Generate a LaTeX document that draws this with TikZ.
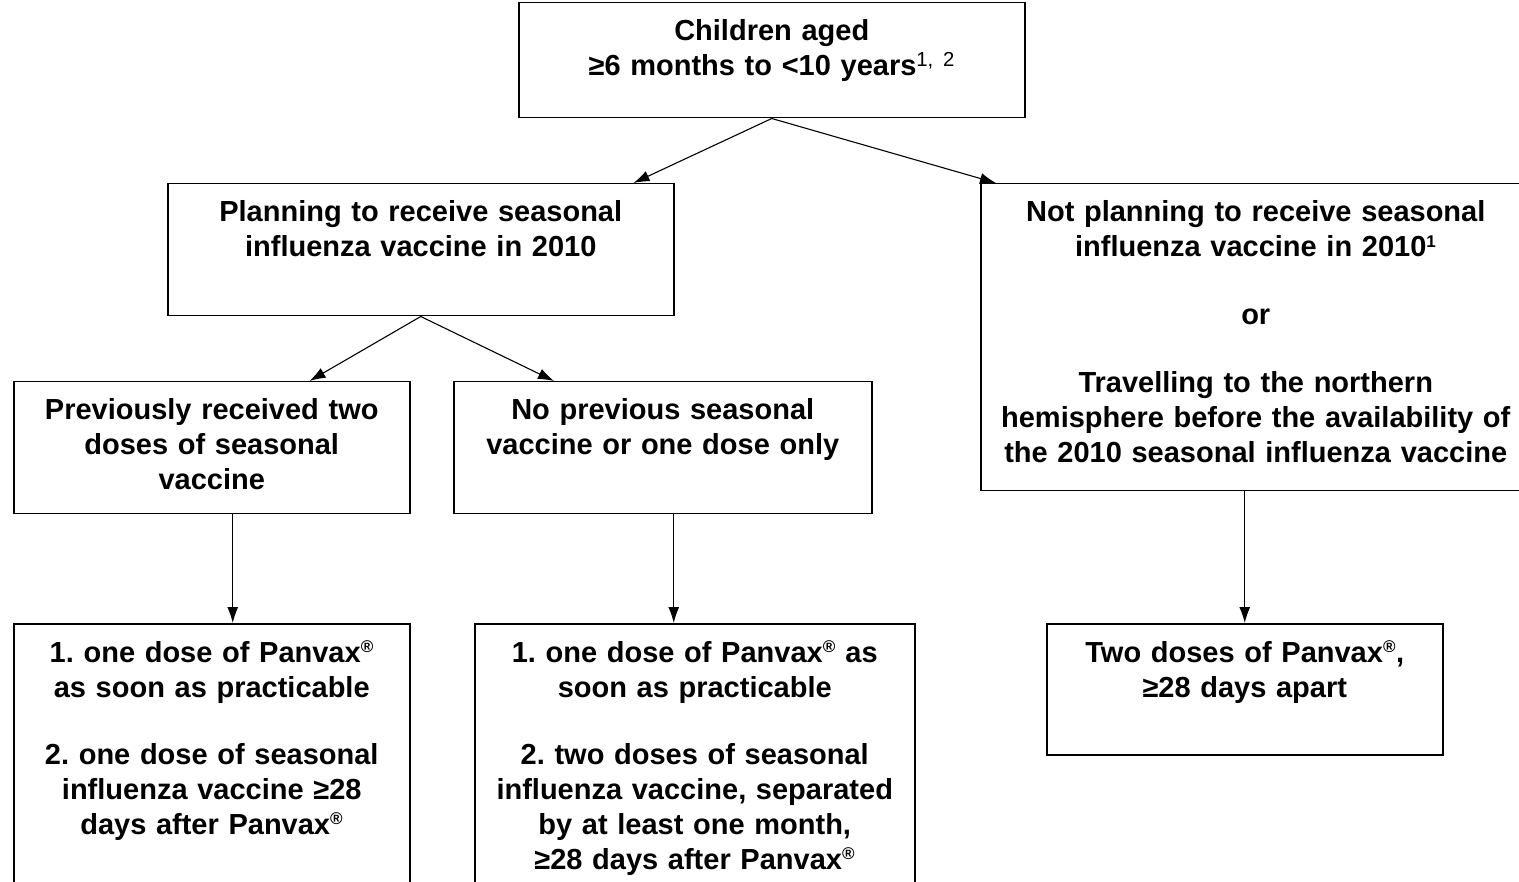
\documentclass[tikz,border=0pt]{standalone}
\usepackage{fontspec}
\setmainfont{Liberation Sans}
\usetikzlibrary{arrows.meta}
\frenchspacing
\newcommand{\regmark}{\textsuperscript{\fontsize{17}{17}\selectfont ®}}
\tikzset{
  box/.style = {draw, line width = 1.5pt, anchor = north west, inner sep = 0pt},
  txt/.style = {anchor = base, align = center, inner sep = 0pt, yshift = -39pt,
    font = \fontsize{29}{35}\selectfont\bfseries}
}
\begin{document}
\begin{tikzpicture}[x = 1pt, y = 1pt, line width = 1.1pt,
    >={Latex[length = 16pt, width = 11pt]}]
  \useasboundingbox (0,0) rectangle (1519,-882);
  % boxes
  \node [box, minimum width = 506pt, minimum height = 115pt] (kids) at (518,-2) {};
  \node [box, minimum width = 506pt, minimum height = 132pt] (plan) at (167,-183) {};
  \node [box, minimum width = 550pt, minimum height = 307pt] (notplan) at (980,-183) {};
  \node [box, minimum width = 396pt, minimum height = 132pt] (prev) at (13,-381) {};
  \node [box, minimum width = 418pt, minimum height = 132pt] (noprev) at (453,-381) {};
  \node [box, minimum width = 396pt, minimum height = 280pt] (doseA) at (13,-623) {};
  \node [box, minimum width = 440pt, minimum height = 280pt] (doseB) at (474,-623) {};
  \node [box, minimum width = 396pt, minimum height = 131pt] (doseC) at (1046,-623) {};
  % texts
  \node [txt, text width = 490pt] (kidstext) at (kids.north)
    {Children aged\\ ≥6 months to <10 years\textsuperscript{\mdseries 1, 2}};
  \node [txt, text width = 490pt] (plantext) at (plan.north)
    {Planning to receive seasonal\\ influenza vaccine in 2010};
  \node [txt, text width = 540pt] (notplantext) at (notplan.north)
    {Not planning to receive seasonal\\ influenza vaccine in 2010\textsuperscript{\fontsize{17}{17}\selectfont 1}\\[33pt]
     or\\[33pt]
     Travelling to the northern\\ hemisphere before the availability of\\
     the 2010 seasonal influenza vaccine};
  \node [txt, text width = 390pt] (prevtext) at (prev.north)
    {Previously received two\\ doses of seasonal\\ vaccine};
  \node [txt, text width = 410pt] (noprevtext) at (noprev.north)
    {No previous seasonal\\ vaccine or one dose only};
  \node [txt, text width = 390pt] (doseAtext) at (doseA.north)
    {1. one dose of Panvax\regmark\\ as soon as practicable\\[32pt]
     2. one dose of seasonal\\ influenza vaccine ≥28\\ days after Panvax\regmark};
  \node [txt, text width = 430pt] (doseBtext) at (doseB.north)
    {1. one dose of Panvax\regmark{} as\\ soon as practicable\\[32pt]
     2. two doses of seasonal\\ influenza vaccine, separated\\
     by at least one month,\\ ≥28 days after Panvax\regmark};
  \node [txt, text width = 390pt] (doseCtext) at (doseC.north)
    {Two doses of Panvax\regmark,\\ ≥28 days apart};
  % arrows
  \draw [->] (kids.south) -- ([xshift = -41pt]plan.north east);
  \draw [->] (kids.south) -- ([xshift = 16pt]notplan.north west);
  \draw [->] (plan.south) -- ([xshift = -101pt]prev.north east);
  \draw [->] (plan.south) -- ([xshift = 101pt]noprev.north west);
  \draw [->] ([xshift = 21pt]prev.south) -- ([xshift = 21pt]doseA.north);
  \draw [->] ([xshift = 11pt]noprev.south) -- ([xshift = -21pt]doseB.north);
  \draw [->] ([xshift = -11pt]notplan.south) -- (doseC.north);
\end{tikzpicture}
\end{document}
